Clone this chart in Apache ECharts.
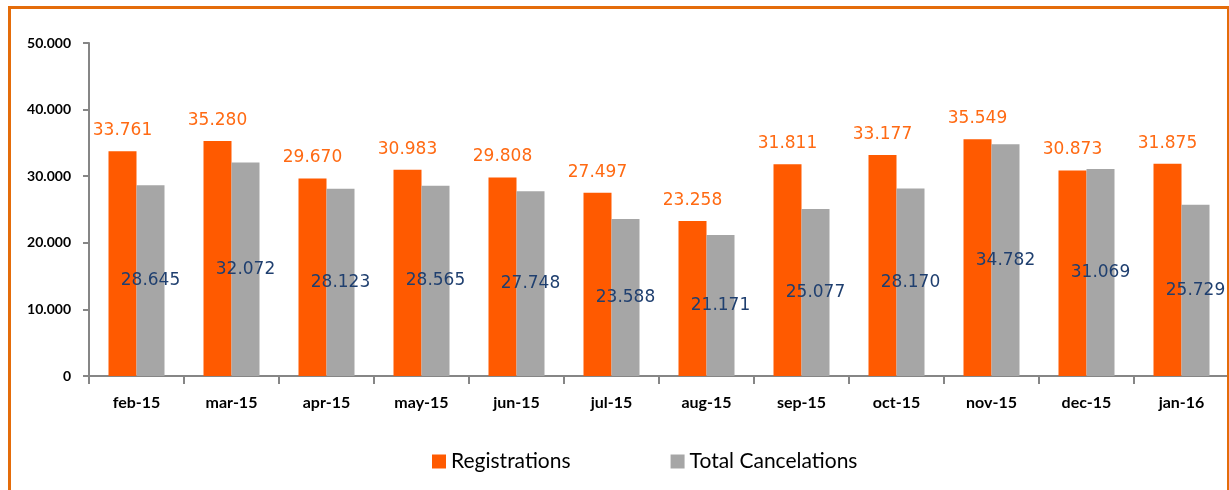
<!DOCTYPE html>
<html lang="en">
<head>
    <meta charset="UTF-8">
    <title>Registrations vs Cancelations</title>
    <script src="https://cdn.jsdelivr.net/npm/echarts@6/dist/echarts.min.js"></script>
    <style>
        html, body { margin: 0; padding: 0; background: #fff; }
        #chart { position: absolute; left: 0; top: 0; width: 1229px; height: 490px; }
        #frame {
            position: absolute; left: 8px; top: 6px; width: 1216px; height: 500px;
            border-top: 3px solid #E46C0A; border-left: 3px solid #E46C0A; border-right: 2px solid #E46C0A;
            pointer-events: none;
        }
    </style>
</head>
<body>
<div id="chart"></div>
<div id="frame"></div>
<script>
    // data
    var months = ['feb-15', 'mar-15', 'apr-15', 'may-15', 'jun-15', 'jul-15',
                  'aug-15', 'sep-15', 'oct-15', 'nov-15', 'dec-15', 'jan-16'];
    var registrations = [33761, 35280, 29670, 30983, 29808, 27497, 23258, 31811, 33177, 35549, 30873, 31875];
    var cancelations = [28645, 32072, 28123, 28565, 27748, 23588, 21171, 25077, 28170, 34782, 31069, 25729];

    // 33761 -> "33.761"
    function dotted(v) {
        return String(v).replace(/\B(?=(\d{3})+(?!\d))/g, '.');
    }

    var myChart = echarts.init(document.getElementById('chart'));
    var option = {
        animation: false,
        grid: { left: 89, right: 0, top: 43, bottom: 114 },
        legend: {
            left: 427,
            top: 446,
            itemWidth: 14,
            itemHeight: 14,
            itemGap: 100,
            icon: 'rect',
            textStyle: { fontFamily: 'Lato', fontSize: 21, color: '#000' },
            data: ['Registrations', 'Total Cancelations']
        },
        xAxis: {
            type: 'category',
            data: months,
            axisLine: { lineStyle: { color: '#868686', width: 2 } },
            axisTick: { show: true, length: 8, lineStyle: { color: '#868686', width: 2 } },
            axisLabel: { margin: 19, fontFamily: 'Lato', fontWeight: 'bold', fontSize: 16, color: '#000' }
        },
        yAxis: {
            type: 'value',
            min: 0,
            max: 50000,
            interval: 10000,
            axisLine: { show: true, lineStyle: { color: '#868686', width: 2 } },
            axisTick: { show: true, length: 6, lineStyle: { color: '#868686', width: 2 } },
            splitLine: { show: false },
            axisLabel: {
                margin: 18,
                fontFamily: 'Lato', fontWeight: 'bold', fontSize: 14, color: '#000',
                formatter: function (v) { return dotted(v); }
            }
        },
        series: [
            {
                name: 'Registrations',
                type: 'bar',
                data: registrations,
                barWidth: 28,
                barGap: '0%',
                itemStyle: { color: '#FF5A00' },
                label: {
                    show: true,
                    position: 'top',
                    distance: 12,
                    fontFamily: 'DejaVu Sans',
                    fontSize: 17,
                    color: '#FF6A13',
                    formatter: function (p) { return dotted(p.value); }
                }
            },
            {
                name: 'Total Cancelations',
                type: 'bar',
                data: cancelations,
                barWidth: 28,
                itemStyle: { color: '#A6A6A6' },
                label: {
                    show: true,
                    position: 'inside',
                    fontFamily: 'DejaVu Sans',
                    fontSize: 17,
                    color: '#1F3F6F',
                    formatter: function (p) { return dotted(p.value); }
                }
            }
        ]
    };
    myChart.setOption(option);
</script>
</body>
</html>
